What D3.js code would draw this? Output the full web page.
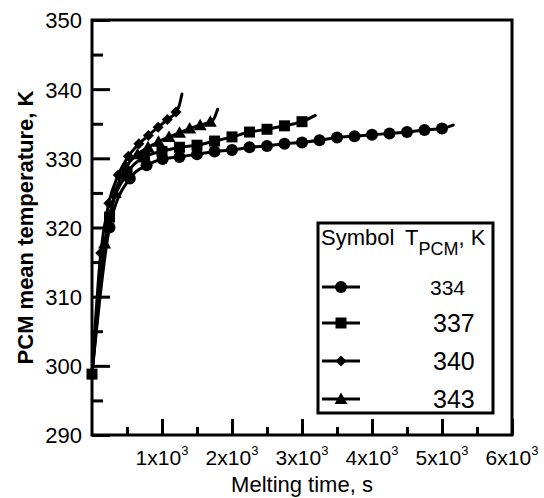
<!DOCTYPE html>
<html>
<head>
<meta charset="utf-8">
<script src="https://cdn.jsdelivr.net/npm/d3@7"></script>
<style>
  html, body { margin: 0; padding: 0; background: #fff; }
  svg { display: block; font-family: "Liberation Sans", Arial, sans-serif; }
</style>
</head>
<body>
<svg id="chart" width="544" height="498"></svg>
<script>
// Melting curves: PCM mean temperature (K) against melting time (s)
const startTime = 0;
const startTemp = 298.8;

const time334 = [250, 540, 780, 1010, 1250, 1500, 1750, 2000, 2250, 2500, 2750, 3000, 3250, 3500, 3750, 4000, 4250, 4500, 4750, 5000];
const temp334 = [320.0, 327.1, 329.0, 329.9, 330.2, 330.6, 331.0, 331.2, 331.6, 331.8, 332.1, 332.3, 332.6, 333.0, 333.2, 333.4, 333.6, 333.8, 334.1, 334.3];
const tailTime334 = [5160];
const tailTemp334 = [334.8];

const time337 = [0, 250, 500, 750, 1000, 1250, 1500, 1750, 2000, 2250, 2500, 2750, 3000];
const temp337 = [298.8, 321.5, 327.8, 330.2, 331.0, 331.6, 331.9, 332.5, 333.1, 333.8, 334.2, 334.7, 335.3];
const tailTime337 = [3190];
const tailTemp337 = [336.2];

const time340 = [125, 240, 375, 520, 670, 805, 945, 1075, 1200];
const temp340 = [316.3, 323.5, 327.6, 330.3, 332.1, 333.3, 334.5, 335.6, 336.7];
const tailTime340 = [1245, 1285];
const tailTemp340 = [337.6, 339.3];

const time343 = [180, 330, 490, 650, 800, 950, 1100, 1250, 1395, 1545, 1690];
const temp343 = [317.7, 325.0, 328.8, 330.6, 331.6, 332.4, 333.1, 333.7, 334.3, 334.8, 335.3];
const tailTime343 = [1745, 1795];
const tailTemp343 = [335.8, 337.1];

const seriesLabels = ["334", "337", "340", "343"];
const symbols = ["circle", "square", "diamond", "triangle"];

const xMajorTicks = [1000, 2000, 3000, 4000, 5000, 6000];
const xMinorTicks = [500, 1500, 2500, 3500, 4500, 5500];
const xTickMantissa = ["1", "2", "3", "4", "5", "6"];
const yMajorTicks = [290, 300, 310, 320, 330, 340, 350];
const yMinorTicks = [295, 305, 315, 325, 335, 345];

const svg = d3.select("#chart");
const plotL = 92, plotR = 512, plotT = 20, plotB = 435;
const x = d3.scaleLinear().domain([0, 6000]).range([plotL, plotR]);
const y = d3.scaleLinear().domain([290, 350]).range([plotB, plotT]);

const FONT = '"Liberation Sans", Arial, sans-serif';

// series assembly
const series = [
  { label: seriesLabels[0], symbol: symbols[0], times: time334, temps: temp334, tailT: tailTime334, tailK: tailTemp334, fromStart: true },
  { label: seriesLabels[1], symbol: symbols[1], times: time337, temps: temp337, tailT: tailTime337, tailK: tailTemp337, fromStart: false },
  { label: seriesLabels[2], symbol: symbols[2], times: time340, temps: temp340, tailT: tailTime340, tailK: tailTemp340, fromStart: true },
  { label: seriesLabels[3], symbol: symbols[3], times: time343, temps: temp343, tailT: tailTime343, tailK: tailTemp343, fromStart: true }
];

function markerPath(type) {
  switch (type) {
    case "circle": return d3.symbol().type(d3.symbolCircle).size(Math.PI * 6 * 6)();
    case "square": return "M-5.5,-5.5H5.5V5.5H-5.5Z";
    case "diamond": return "M0,-5.5L5.5,0L0,5.5L-5.5,0Z";
    case "triangle": return "M0,-6.5L6.5,5L-6.5,5Z";
  }
}

// axes frame with inward ticks
const gx = svg.append("g").attr("transform", `translate(0,${plotB})`)
  .call(d3.axisBottom(x).tickValues(xMajorTicks).tickSizeInner(-16).tickSizeOuter(0).tickFormat(""));
const gxm = svg.append("g").attr("transform", `translate(0,${plotB})`)
  .call(d3.axisBottom(x).tickValues(xMinorTicks).tickSizeInner(-8).tickSizeOuter(0).tickFormat(""));
const gy = svg.append("g").attr("transform", `translate(${plotL},0)`)
  .call(d3.axisLeft(y).tickValues(yMajorTicks).tickSizeInner(-18).tickSizeOuter(0).tickPadding(10).tickFormat(d3.format("d")));
const gym = svg.append("g").attr("transform", `translate(${plotL},0)`)
  .call(d3.axisLeft(y).tickValues(yMinorTicks).tickSizeInner(-11).tickSizeOuter(0).tickFormat(""));

[gx, gxm, gy, gym].forEach(g => {
  g.select(".domain").remove();
  g.selectAll(".tick line").attr("stroke", "#000").attr("stroke-width", 3);
});
gy.selectAll(".tick text")
  .attr("font-family", FONT).attr("font-size", 22).attr("fill", "#000")
  .attr("dy", "0.36em");

// x tick labels with exponent
xMajorTicks.forEach((v, i) => {
  const t = svg.append("text")
    .attr("x", x(v)).attr("y", 465)
    .attr("text-anchor", "middle")
    .attr("font-family", FONT).attr("font-size", 21).attr("fill", "#000");
  t.append("tspan").text(xTickMantissa[i] + "x10");
  t.append("tspan").attr("font-size", 13).attr("dy", -10).text("3");
});

// plot frame
svg.append("rect")
  .attr("x", plotL).attr("y", plotT)
  .attr("width", plotR - plotL).attr("height", plotB - plotT)
  .attr("fill", "none").attr("stroke", "#000").attr("stroke-width", 3);

// axis titles
svg.append("text")
  .attr("x", (plotL + plotR) / 2).attr("y", 492)
  .attr("text-anchor", "middle")
  .attr("font-family", FONT).attr("font-size", 22).attr("fill", "#000")
  .text("Melting time, s");

svg.append("text")
  .attr("transform", `translate(33,${(plotT + plotB) / 2}) rotate(-90)`)
  .attr("text-anchor", "middle")
  .attr("font-family", FONT).attr("font-size", 22).attr("font-weight", "bold").attr("fill", "#000")
  .text("PCM mean temperature, K");

// curves
const line = d3.line().x(d => x(d[0])).y(d => y(d[1])).curve(d3.curveMonotoneX);
const plot = svg.append("g");

series.forEach(s => {
  const pts = [];
  if (s.fromStart) pts.push([startTime, startTemp]);
  s.times.forEach((t, i) => pts.push([t, s.temps[i]]));
  s.tailT.forEach((t, i) => pts.push([t, s.tailK[i]]));
  plot.append("path")
    .attr("d", line(pts))
    .attr("fill", "none").attr("stroke", "#000").attr("stroke-width", 3)
    .attr("stroke-linejoin", "round").attr("stroke-linecap", "round");
});

series.forEach(s => {
  plot.append("g").selectAll("path")
    .data(s.times.map((t, i) => [t, s.temps[i]]))
    .join("path")
    .attr("transform", d => `translate(${x(d[0])},${y(d[1])})`)
    .attr("d", markerPath(s.symbol))
    .attr("fill", "#000");
});

// legend
const lg = svg.append("g");
lg.append("rect")
  .attr("x", 318).attr("y", 223).attr("width", 175).attr("height", 190)
  .attr("fill", "#fff").attr("stroke", "#000").attr("stroke-width", 3);

lg.append("text").attr("x", 321).attr("y", 245)
  .attr("font-family", FONT).attr("font-size", 22).attr("fill", "#000")
  .text("Symbol");
const hdr = lg.append("text").attr("x", 405).attr("y", 245)
  .attr("font-family", FONT).attr("font-size", 22).attr("fill", "#000");
hdr.append("tspan").text("T");
hdr.append("tspan").attr("font-size", 18).attr("dy", 10).text("PCM");
hdr.append("tspan").attr("dy", -10).text(", K");

const rowY = [287, 323, 361, 399];
const labelSize = [21, 25, 25, 25];
const labelX = [430, 433, 433, 433];
series.forEach((s, i) => {
  lg.append("line")
    .attr("x1", 322).attr("x2", 360).attr("y1", rowY[i]).attr("y2", rowY[i])
    .attr("stroke", "#000").attr("stroke-width", 3);
  lg.append("path")
    .attr("transform", `translate(341,${rowY[i]})`)
    .attr("d", markerPath(s.symbol)).attr("fill", "#000");
  lg.append("text")
    .attr("x", labelX[i]).attr("y", rowY[i]).attr("dy", "0.36em")
    .attr("font-family", FONT).attr("font-size", labelSize[i]).attr("fill", "#000")
    .text(s.label);
});
</script>
</body>
</html>
